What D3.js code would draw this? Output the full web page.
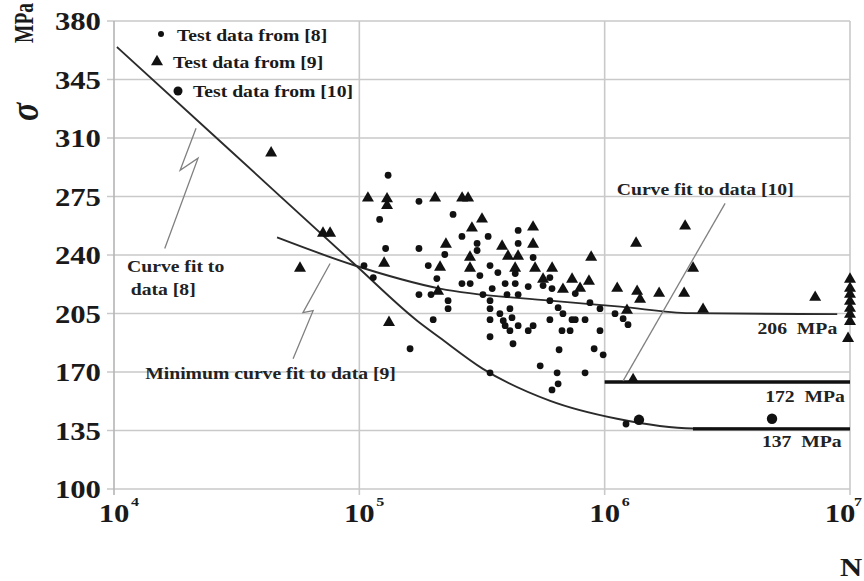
<!DOCTYPE html>
<html><head><meta charset="utf-8">
<script src="https://cdn.jsdelivr.net/npm/d3@7"></script>
<style>body{margin:0;background:#fff}text{font-family:"Liberation Serif","Times New Roman",serif}</style>
</head><body>
<svg id="c" width="864" height="581"></svg>
<script>
// ---------- data ----------
const yTicks=[100,135,170,205,240,275,310,345,380];
const xDecades=[1e4,1e5,1e6,1e7];
const xExps=["4","5","6","7"];
const legendLabels=["Test data from [8]","Test data from [9]","Test data from [10]"];

const data8=[[131000,287.7],[121000,261.3],[175000,272.1],[241000,264.3],[128000,243.9],[175000,243.9],[223000,240.3],[191000,233.7],[207000,225.9],[175000,216.3],[196000,216.3],[230000,212.7],[230000,207.9],[200000,201.3],[161000,183.9],[104500,233.7],[114000,226.5],[262000,251.1],[302000,242.7],[302000,246.9],[262000,222.9],[283000,222.9],[335000,251.1],[444000,254.7],[444000,246.9],[511000,238.5],[341000,233.7],[367000,229.5],[432000,228.9],[598000,226.5],[310000,227.7],[393000,222.9],[432000,222.9],[488000,221.1],[561000,221.7],[759000,216.9],[610000,219.9],[348000,219.9],[319000,216.3],[400000,216.3],[444000,216.3],[341000,212.7],[341000,207.9],[598000,212.7],[871000,211.5],[957000,207.9],[411000,207.9],[341000,201.3],[374000,204.9],[386000,200.7],[419000,202.5],[393000,197.7],[411000,194.7],[444000,197.7],[488000,194.7],[511000,197.7],[598000,201.3],[646000,208.5],[676000,204.9],[736000,201.3],[759000,201.3],[832000,201.3],[670000,194.7],[723000,194.7],[957000,194.7],[341000,191.1],[423000,186.9],[652000,183.3],[906000,183.9],[986000,180.3],[546000,173.7],[640000,169.5],[832000,169.5],[646000,162.9],[610000,159.3],[341000,169.5],[1102000,204.9],[1189000,201.9],[1245000,198.3],[1222000,138.9]];

const data9=[[43700,301.5],[57300,232.5],[71100,253.5],[76000,253.5],[108400,274.5],[129700,274],[129700,270],[126200,235.5],[132100,200.1],[203700,274.5],[262400,274.5],[277500,274.5],[225400,246.9],[213300,233.1],[209400,218.7],[287700,256.5],[316200,261.9],[282500,239.1],[282500,232.5],[381900,245.7],[510600,257.1],[510600,246.9],[403600,239.7],[443600,239.7],[431500,232.5],[520300,232.5],[610600,232.5],[561000,225.9],[736400,225.9],[863000,224.7],[676100,219.9],[794000,220.5],[881000,239.1],[1125000,220.5],[1356000,218.7],[1394000,213.9],[1667000,217.5],[2108000,217.5],[1343000,247.5],[2128000,257.7],[2293000,232.5],[2518000,207.9],[1233000,207.3],[1306000,165.9],[7211000,215.1],[1e7,225.9],[1e7,220.5],[1e7,216.9],[1e7,212.7],[1e7,208.5],[1e7,204.9],[1e7,200.7],[9820000,190.5]];

const data10=[[1380000,141.4],[4810000,142]];

const fit8=[[10280,364.4],[29700,302.7],[95900,234.3],[172000,200.7],[213000,190.5],[319000,171.9],[600000,152.7],[1124000,142],[2291000,136.2],[1e7,136]];
const fit9=[[46200,250.5],[95900,233.7],[213000,219.9],[598000,212.7],[1156000,209.1],[2230000,205.2],[8870000,204.6]];
const line172=[[1e6,164],[1e7,164]];
const line137=[[2291000,136],[1e7,136]];

const lead8=[[21600,315.8],[18600,290.7],[22000,297.9],[16100,243.9]];
const lead9=[[76000,234.9],[58900,205.5],[64800,206.7],[53700,177.9]];
const lead10=[[3097000,270.9],[1189000,164.7]];

const notes=[
 {t:"Curve fit to",p:[11300,230.1],a:"start"},
 {t:"data [8]",p:[11700,216.3],a:"start"},
 {t:"Minimum curve fit to data [9]",p:[13400,165.9],a:"start"},
 {t:"Curve fit to data [10]",p:[1120000,275.7],a:"start"},
 {t:"206\u00a0 MPa",p:[8870000,192.9],a:"end"},
 {t:"172\u00a0 MPa",p:[9530000,152],a:"end"},
 {t:"137\u00a0 MPa",p:[9250000,125.2],a:"end"}
];

// ---------- chart ----------
const SX=1.23;
const svg=d3.select("#c");
const x=d3.scaleLog().domain([1e4,1e7]).range([114,850]);
const y=d3.scaleLinear().domain([100,380]).range([489,21]);
const grid="#c9c9c9";

function stext(g,px,py,str,size,anchor,weight,fill){
  return g.append("text").attr("transform",`translate(${px},${py}) scale(${SX},1)`)
    .attr("text-anchor",anchor||"start").attr("font-size",size)
    .attr("font-weight",weight||"bold").attr("fill",fill||"#1a1a1a").text(str);
}

// grid
svg.append("g").selectAll("line").data(yTicks).join("line")
  .attr("x1",107).attr("x2",x(1e7)).attr("y1",d=>y(d)).attr("y2",d=>y(d))
  .attr("stroke",grid).attr("stroke-width",1.6);
svg.append("g").selectAll("line").data(xDecades).join("line")
  .attr("x1",d=>x(d)).attr("x2",d=>x(d)).attr("y1",y(380)).attr("y2",y(100)+6)
  .attr("stroke",d=>d===1e4?"#b5b5b5":grid).attr("stroke-width",1.6);

// y tick labels
const gl=svg.append("g");
yTicks.forEach(v=>stext(gl,101,y(v)+9,String(v),25,"end"));
// x tick labels
xDecades.forEach((v,i)=>{
  const last=i===xDecades.length-1;
  const cx=last?x(v)-10:x(v);
  stext(gl,cx,y(100)+33,"10",25,"middle");
  stext(gl,cx+(last?14:17),y(100)+17,xExps[i],13,"start");
});
stext(gl,851,576,"N",25,"middle");
// y title
svg.append("text").attr("transform","translate(38,121) rotate(-90) scale(1,1.2)")
  .attr("font-size",34).attr("font-style","italic").attr("font-weight","bold").attr("fill","#1a1a1a").text("σ");
svg.append("text").attr("transform","translate(33,43) rotate(-90) scale(1,1.45)")
  .attr("font-size",19.5).attr("font-weight","bold").attr("fill","#1a1a1a").text("MPa");

// curves
const ln=d3.line().x(d=>x(d[0])).y(d=>y(d[1])).curve(d3.curveMonotoneX);
const lnS=d3.line().x(d=>x(d[0])).y(d=>y(d[1]));
svg.append("path").attr("d",ln(fit8)).attr("fill","none").attr("stroke","#2b2b2b").attr("stroke-width",1.9);
svg.append("path").attr("d",ln(fit9)).attr("fill","none").attr("stroke","#2b2b2b").attr("stroke-width",1.9);
svg.append("path").attr("d",lnS(line172)).attr("fill","none").attr("stroke","#111").attr("stroke-width",3.5);
svg.append("path").attr("d",lnS(line137)).attr("fill","none").attr("stroke","#111").attr("stroke-width",3.2);

// leaders
[lead8,lead9,lead10].forEach(l=>svg.append("path").attr("d",lnS(l)).attr("fill","none").attr("stroke","#808080").attr("stroke-width",1.3));

// markers
const tri="M0,-6.2L6,4.2L-6,4.2Z";
svg.append("g").selectAll("circle").data(data8).join("circle")
  .attr("cx",d=>x(d[0])).attr("cy",d=>y(d[1])).attr("r",3.4).attr("fill","#111");
svg.append("g").selectAll("path").data(data9).join("path")
  .attr("d",tri).attr("transform",d=>`translate(${x(d[0])},${y(d[1])})`).attr("fill","#111");
svg.append("g").selectAll("circle").data(data10).join("circle")
  .attr("cx",d=>x(d[0])).attr("cy",d=>y(d[1])).attr("r",5.2).attr("fill","#111");

// notes
const gn=svg.append("g");
notes.forEach(n=>stext(gn,x(n.p[0]),y(n.p[1]),n.t,16,n.a,"bold","#222"));

// legend
const lg=svg.append("g");
lg.append("circle").attr("cx",161).attr("cy",34).attr("r",3).attr("fill","#111");
lg.append("path").attr("d",tri).attr("transform","translate(157,61)").attr("fill","#111");
lg.append("circle").attr("cx",178).attr("cy",91).attr("r",4.5).attr("fill","#111");
stext(lg,177,41,legendLabels[0],16,"start");
stext(lg,173,68,legendLabels[1],16,"start");
stext(lg,193,97,legendLabels[2],16,"start");
</script>
</body></html>
